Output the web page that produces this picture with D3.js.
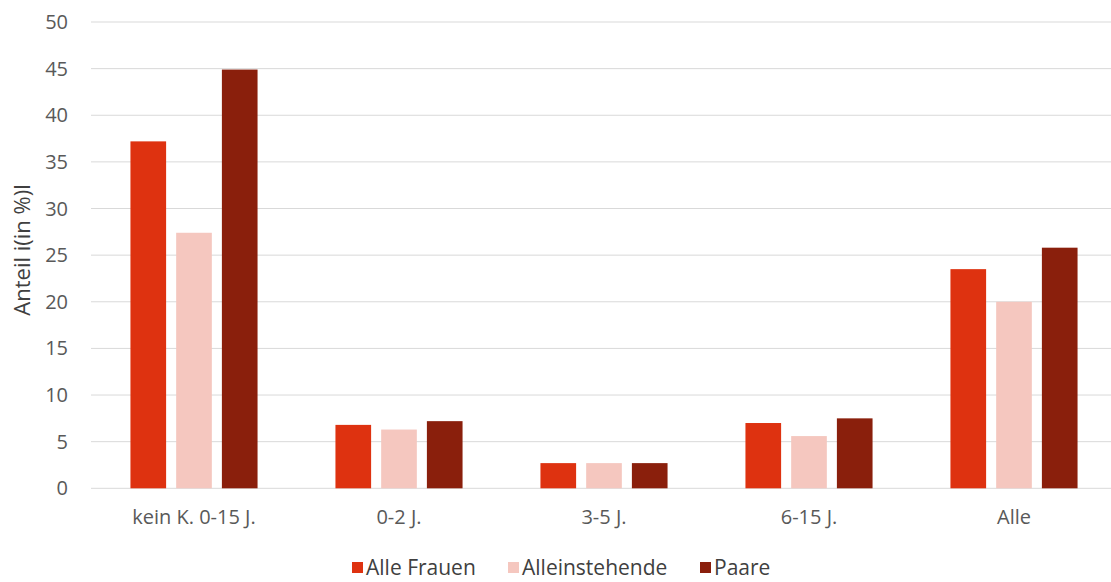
<!DOCTYPE html>
<html><head><meta charset="utf-8">
<script src="https://cdn.jsdelivr.net/npm/d3@7"></script>
<style>body{margin:0;background:#fff}svg{display:block;font-family:"Open Sans",sans-serif}</style>
</head><body><svg id="c" width="1111" height="582"></svg>
<script>
const categories = ["kein K. 0-15 J.", "0-2 J.", "3-5 J.", "6-15 J.", "Alle"];
const seriesNames = ["Alle Frauen", "Alleinstehende", "Paare"];
const alleFrauen = [37.2, 6.8, 2.7, 7.0, 23.5];
const alleinstehende = [27.4, 6.3, 2.7, 5.6, 20.0];
const paare = [44.9, 7.2, 2.7, 7.5, 25.8];
const yTicks = [0, 5, 10, 15, 20, 25, 30, 35, 40, 45, 50];
const colors = ["#DE3210", "#F5C7BF", "#8A1F0C"];
const values = [alleFrauen, alleinstehende, paare];

const svg = d3.select("#c");
const x0 = d3.scaleBand().domain(categories).range([91.5, 1116.5]).paddingInner(0.38).paddingOuter(0.19);
const x1 = d3.scaleBand().domain(seriesNames).range([0, x0.bandwidth()]).paddingInner(0.22);
const y = d3.scaleLinear().domain([0, 50]).range([488.3, 22]);

// gridlines
svg.append("g").selectAll("line").data(yTicks).join("line")
  .attr("x1", 91).attr("x2", 1111)
  .attr("y1", d => y(d)).attr("y2", d => y(d))
  .attr("stroke", "#d9d9d9").attr("stroke-width", 1);

// y tick labels
svg.append("g").selectAll("text").data(yTicks).join("text")
  .attr("x", 68).attr("y", d => y(d)).attr("dy", "0.35em")
  .attr("text-anchor", "end").attr("font-size", 20).attr("fill", "#595959")
  .text(d => d);

// bars
categories.forEach((c, i) => {
  svg.append("g").selectAll("rect").data(seriesNames).join("rect")
    .attr("x", (s) => x0(c) + x1(s))
    .attr("width", x1.bandwidth())
    .attr("y", (s, j) => y(values[j][i]))
    .attr("height", (s, j) => y(0) - y(values[j][i]))
    .attr("fill", (s, j) => colors[j]);
});

// x labels
svg.append("g").selectAll("text").data(categories).join("text")
  .attr("x", d => x0(d) + x0.bandwidth() / 2).attr("y", 524)
  .attr("text-anchor", "middle").attr("font-size", 20).attr("fill", "#595959")
  .text(d => d);

// y axis title
svg.append("text").attr("transform", "translate(30,250) rotate(-90)")
  .attr("text-anchor", "middle").attr("font-size", 22).attr("fill", "#404040")
  .text("Anteil i(in %)l");

// legend
const legX = [352, 508, 700];
const leg = svg.append("g").selectAll("g").data(seriesNames).join("g")
  .attr("transform", (d, i) => `translate(${legX[i]},568)`);
leg.append("rect").attr("x", 0).attr("y", -6).attr("width", 11).attr("height", 11)
  .attr("fill", (d, i) => colors[i]);
leg.append("text").attr("x", 14).attr("y", 0).attr("dy", "0.35em")
  .attr("font-size", 21).attr("fill", "#404040").text(d => d);
</script></body></html>
